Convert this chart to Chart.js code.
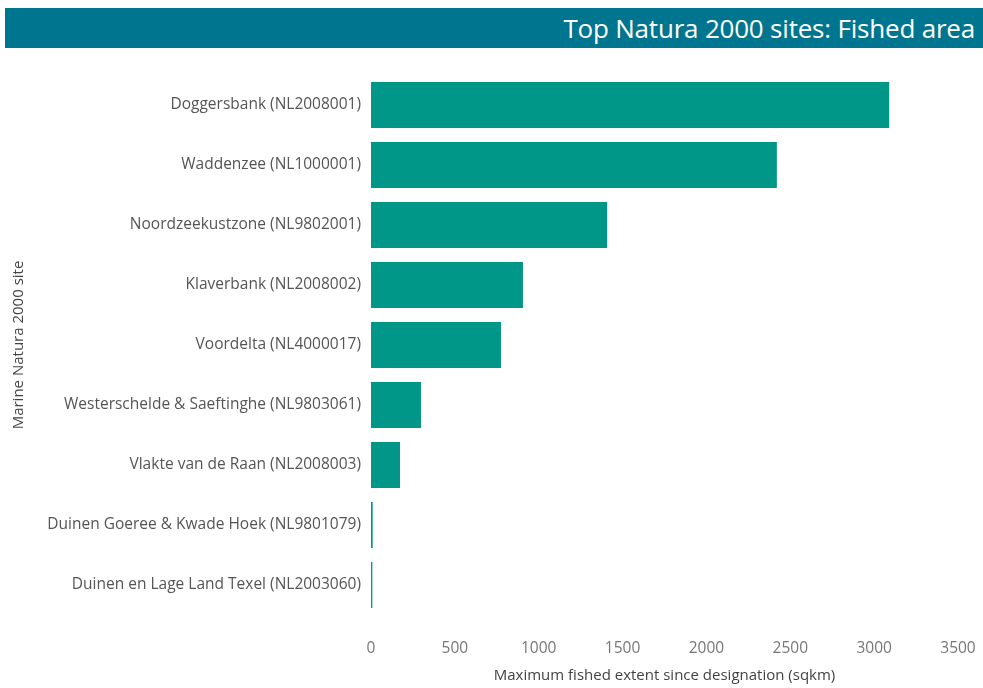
<!DOCTYPE html>
<html>
<head>
<meta charset="utf-8">
<script src="https://cdn.jsdelivr.net/npm/chart.js@4"></script>
<style>
  body { margin: 0; background: #fff; }
  #wrap { position: relative; width: 983px; height: 688px; }
  #header {
    position: absolute; left: 5px; top: 8px; width: 978px; height: 40px;
    background: #00758f; color: #fff;
    font-family: "Open Sans", sans-serif; font-size: 26px;
    line-height: 40px; text-align: right; padding-right: 8px; box-sizing: border-box;
    letter-spacing: -0.2px;
  }
  canvas { position: absolute; left: 0; top: 0; }
</style>
</head>
<body>
<div id="wrap">
  <canvas id="chart" width="983" height="688"></canvas>
  <div id="header">Top Natura 2000 sites: Fished area</div>
</div>
<script>
const sites = [
  "Doggersbank (NL2008001)",
  "Waddenzee (NL1000001)",
  "Noordzeekustzone (NL9802001)",
  "Klaverbank (NL2008002)",
  "Voordelta (NL4000017)",
  "Westerschelde & Saeftinghe (NL9803061)",
  "Vlakte van de Raan (NL2008003)",
  "Duinen Goeree & Kwade Hoek (NL9801079)",
  "Duinen en Lage Land Texel (NL2003060)"
];
const fishedArea = [3090, 2420, 1408, 906, 775, 298, 173, 10, 8];
const xTicks = [0, 500, 1000, 1500, 2000, 2500, 3000, 3500];

const ctx = document.getElementById("chart").getContext("2d");

new Chart(ctx, {
  type: "bar",
  data: {
    labels: sites,
    datasets: [{
      data: fishedArea,
      backgroundColor: "#009688",
      barPercentage: 0.77,
      categoryPercentage: 1
    }]
  },
  options: {
    indexAxis: "y",
    responsive: false,
    animation: false,
    layout: { padding: { top: 75, left: 6, right: 25, bottom: 0 } },
    plugins: { legend: { display: false }, tooltip: { enabled: false } },
    scales: {
      x: {
        min: 0,
        max: 3500,
        afterBuildTicks: (axis) => { axis.ticks = xTicks.map(v => ({ value: v })); },
        afterFit: (axis) => {
          axis.height = 73;
          // tick padding is only meant to push labels down, not sideways
          axis.paddingLeft = 0;
          axis.paddingRight = 0;
        },
        grid: { display: false, drawTicks: false },
        border: { display: false },
        ticks: {
          padding: 24,
          color: "#777",
          font: { family: "Open Sans", size: 15.5 },
          callback: (v) => String(v)
        },
        title: {
          display: true,
          text: "Maximum fished extent since designation (sqkm)",
          color: "#444",
          font: { family: "Open Sans", size: 15 },
          padding: { top: 2, bottom: 3 }
        }
      },
      y: {
        afterFit: (axis) => { axis.width = 365; },
        grid: { display: false, drawTicks: false },
        border: { display: false },
        ticks: {
          padding: 10,
          color: "#555",
          font: { family: "Open Sans", size: 15.5 }
        },
        title: {
          display: true,
          text: "Marine Natura 2000 site",
          color: "#444",
          font: { family: "Open Sans", size: 15 },
          padding: { top: 4, bottom: 4 }
        }
      }
    }
  }
});
</script>
</body>
</html>
